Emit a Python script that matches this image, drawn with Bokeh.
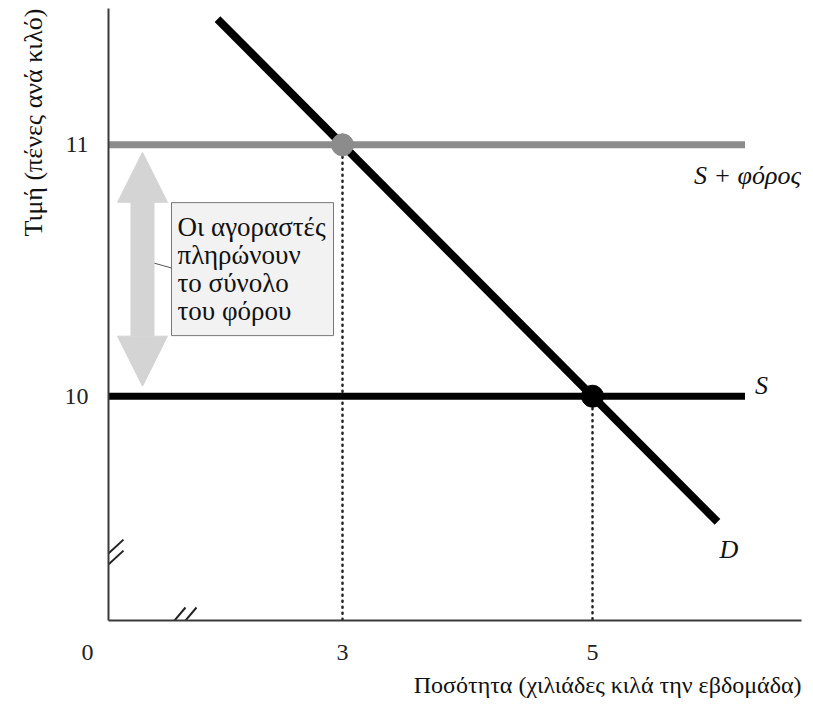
import math
from bokeh.plotting import figure
from bokeh.models import Range1d, FixedTicker, Label, Arrow, NormalHead, Title
from bokeh.embed import file_html
from bokeh.resources import INLINE

# ---- data ----
quantity_ticks = [3, 5]
price_ticks = [10, 11]
demand_q = [2.0, 6.0]
demand_p = [11.5, 9.5]
supply_end_q = 6.22
supply_p = 10
supply_tax_p = 11
eq_q, eq_p = 5, 10
tax_eq_q, tax_eq_p = 3, 11
arrow_q = 1.40
arrow_p = [10.04, 10.97]
note_lines = ["Οι αγοραστές", "πληρώνουν", "το σύνολο", "του φόρου"]
note_top_p = 10.77
connector_p = [10.53, 10.51]
x_title = "Ποσότητα (χιλιάδες κιλά την εβδομάδα)"
y_title = "Τιμή (πένες ανά κιλό)"
origin_label = "0"
y_break_p = 9.36
x_break_q = 1.70

SERIF = "Liberation Serif"
W, H = 805, 700
BL, BR, BT, BB = 108, 4, 8, 80
X0, X1 = 1.128, 6.672
Y0, Y1 = 9.108, 11.542
fw, fh = W - BL - BR, H - BT - BB
PX = fw / (X1 - X0)  # px per x unit
PY = fh / (Y1 - Y0)  # px per y unit

p = figure(width=W, height=H, output_backend="svg", toolbar_location=None,
           x_range=Range1d(X0, X1), y_range=Range1d(Y0, Y1),
           min_border_left=BL, min_border_right=BR, min_border_top=BT, min_border_bottom=BB)
p.outline_line_color = None
p.grid.visible = False
p.background_fill_color = "white"

NBSP = "\u00a0"
for ax, ticks in ((p.xaxis, [X0] + quantity_ticks), (p.yaxis, price_ticks)):
    ax.ticker = FixedTicker(ticks=ticks)
    ax.major_tick_out = 0
    ax.major_tick_in = 0
    ax.minor_tick_out = 0
    ax.minor_tick_in = 0
    ax.axis_line_width = 2
    ax.axis_line_color = "#3a3a3a"
    ax.major_label_text_font = SERIF
    ax.major_label_text_font_size = "24px"
    ax.major_label_text_color = "#222222"
    ax.major_label_standoff = 20
p.xaxis.major_label_standoff = 18

# origin "0" shown at the axes corner (shifted left with non-breaking spaces)
p.xaxis.major_label_overrides = {X0: origin_label + NBSP * 7}

# axis titles, aligned to the far ends of the axes
title_kw = dict(text_font=SERIF, text_font_style="normal", text_color="#111111", align="right")
p.add_layout(Title(text=x_title, standoff=4, text_font_size="24px", **title_kw), "below")
p.add_layout(Title(text=y_title, standoff=27, text_font_size="26px", **title_kw), "left")

# arrow (tax incidence)
head_kw = dict(size=50, fill_color="#d4d4d4", line_color="#d4d4d4", line_width=1)
p.add_layout(Arrow(x_start=arrow_q, y_start=arrow_p[0], x_end=arrow_q, y_end=arrow_p[1],
                   line_width=24, line_color="#d4d4d4",
                   start=NormalHead(**head_kw), end=NormalHead(**head_kw)))

# dotted drop lines
p.segment(x0=[tax_eq_q, eq_q], y0=[tax_eq_p, eq_p], x1=[tax_eq_q, eq_q], y1=[Y0, Y0],
          line_color="#222222", line_width=2.5, line_dash="1 5", line_cap="round")

# supply lines
p.line([X0, supply_end_q], [supply_tax_p, supply_tax_p], line_color="#8c8c8c", line_width=7)
p.line([X0, supply_end_q], [supply_p, supply_p], line_color="black", line_width=7)
# demand
p.line(demand_q, demand_p, line_color="black", line_width=8)

# equilibrium points
p.scatter([tax_eq_q], [tax_eq_p], size=22, fill_color="#8c8c8c", line_color="#8c8c8c")
p.scatter([eq_q], [eq_p], size=22, fill_color="black", line_color="black")

# note box (size in pixels, placed right of the arrow)
box_left = arrow_q + 29 / PX
box_w, box_h, line_gap = 162, 133, 28
p.quad(left=[box_left], right=[box_left + box_w / PX], top=[note_top_p],
       bottom=[note_top_p - box_h / PY], fill_color="#f2f2f2", line_color="#777777", line_width=1)
# connector from note box to arrow
p.line([arrow_q + 11 / PX, box_left], connector_p, line_color="#555555", line_width=1)
for i, t in enumerate(note_lines):
    p.add_layout(Label(x=box_left, y=note_top_p, x_offset=6, y_offset=-(24 + i * line_gap),
                       text=t, text_font=SERIF, text_font_size="27px", text_color="#111111",
                       text_align="left", text_baseline="middle"))

# axis break marks
def slashes(xc, yc, dx, dy, ox, oy):
    for k in (-0.5, 0.5):
        cx, cy = xc + k * ox / PX, yc + k * oy / PY
        p.segment(x0=[cx - dx / 2 / PX], y0=[cy - dy / 2 / PY],
                  x1=[cx + dx / 2 / PX], y1=[cy + dy / 2 / PY],
                  line_color="#222222", line_width=2)

slashes(X0 + 2 / PX, y_break_p, 26, 24, 0, -11)
slashes(x_break_q, Y0, 22, 26, 11, 0)

# curve labels
lab = dict(text_font=SERIF, text_font_style="italic", text_font_size="26px", text_color="#111111")
p.add_layout(Label(x=supply_end_q, y=supply_tax_p, x_offset=56, y_offset=-31, text="S + φόρος",
                   text_align="right", text_baseline="middle", **lab))
p.add_layout(Label(x=supply_end_q, y=supply_p, x_offset=10, y_offset=11, text="S",
                   text_align="left", text_baseline="middle", **lab))
p.add_layout(Label(x=demand_q[1], y=demand_p[1], x_offset=2, y_offset=-28, text="D",
                   text_align="left", text_baseline="middle", **lab))

open("out.html", "w").write(file_html(p, INLINE))
